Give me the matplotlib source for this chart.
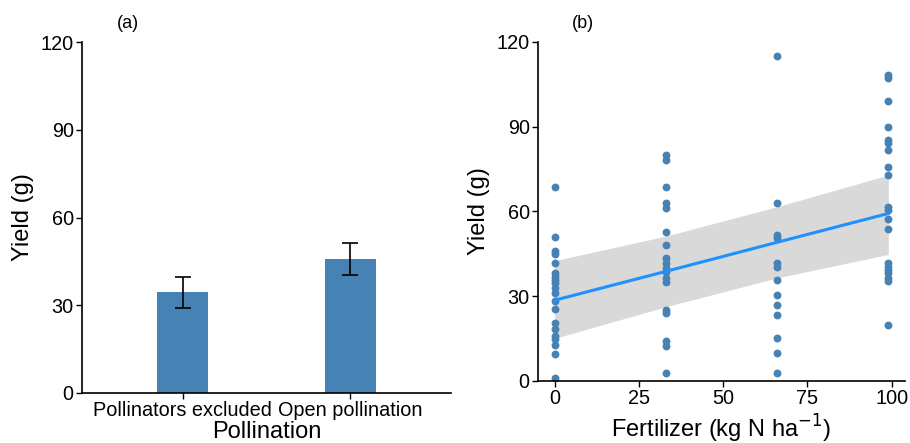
import matplotlib
matplotlib.use("Agg")
import matplotlib.pyplot as plt
import numpy as np

plt.rcParams['font.family'] = ['Liberation Sans', 'DejaVu Sans']

# Panel (a): bar chart
categories = ["Pollinators excluded", "Open pollination"]
bar_means = [34.5, 45.8]
bar_err_low = [29.1, 40.3]
bar_err_high = [39.7, 51.3]

# Panel (b): scatter
fert_levels = [0, 33, 66, 99]
yield_f0 = [68.5, 50.9, 46.1, 45.0, 41.7, 38.1, 36.9, 35.8, 34.6, 32.8, 31.0,
            28.4, 25.4, 20.6, 18.3, 15.9, 14.8, 12.7, 9.6, 1.2]
yield_f33 = [80.0, 78.2, 68.8, 62.9, 61.1, 52.8, 48.1, 43.4, 41.7, 39.9, 38.7,
             36.4, 35.2, 25.1, 24.0, 14.0, 12.5, 3.0]
yield_f66 = [115.2, 62.9, 51.7, 50.5, 41.7, 40.5, 35.8, 30.4, 26.9, 23.4, 15.1,
             9.8, 2.7]
yield_f99 = [108.3, 107.3, 99.2, 89.8, 85.3, 84.1, 81.8, 75.9, 72.9, 61.7, 60.5,
             57.2, 53.7, 41.7, 40.5, 39.3, 38.1, 36.6, 35.5, 19.8]

# fitted line and confidence band
fit_x = [0, 33, 66, 99]
fit_y = [28.6, 38.8, 49.1, 59.3]
fit_lo = [15.1, 26.3, 36.5, 44.8]
fit_hi = [42.6, 51.3, 61.7, 72.9]

yticks = [0, 30, 60, 90, 120]
xticks_b = [0, 25, 50, 75, 100]

BLUE = "#4682B4"
LINE = "#1E90FF"

fig = plt.figure(figsize=(9.10, 4.43), dpi=100)

def style(ax):
    for s in ["top", "right"]:
        ax.spines[s].set_visible(False)
    for s in ["left", "bottom"]:
        ax.spines[s].set_linewidth(1.2)
        ax.spines[s].set_color("black")
    ax.tick_params(axis="both", length=4, width=1.0, labelsize=14.3, pad=2,
                   colors="black")

# ---- Panel (a)
ax1 = fig.add_axes([82/910, 1-393/443, 369/910, 351/443])
xpos = np.arange(len(categories))
ax1.bar(xpos, bar_means, width=0.3, color=BLUE, zorder=2)
yerr = [np.array(bar_means) - np.array(bar_err_low),
        np.array(bar_err_high) - np.array(bar_means)]
ax1.errorbar(xpos, bar_means, yerr=yerr, fmt="none", ecolor="black",
             elinewidth=1.2, capsize=6, capthick=1.2, zorder=3)
ax1.set_xlim(-0.6, 1.6)
ax1.set_ylim(0, 120)
ax1.set_yticks(yticks)
ax1.set_xticks(xpos)
ax1.set_xticklabels(categories)
ax1.set_ylabel("Yield (g)", fontsize=17, labelpad=5)
ax1.set_xlabel("Pollination", fontsize=17, labelpad=0.5)
style(ax1)

# ---- Panel (b)
ax2 = fig.add_axes([538/910, 1-381/443, 367/910, 339/443])
ax2.fill_between(fit_x, fit_lo, fit_hi, color="#D9D9D9", linewidth=0, zorder=1)
for lvl, vals in zip(fert_levels, [yield_f0, yield_f33, yield_f66, yield_f99]):
    ax2.scatter(np.full(len(vals), lvl), vals, s=32, color=BLUE,
                linewidths=0, zorder=2)
ax2.plot(fit_x, fit_y, color=LINE, linewidth=2.2, zorder=3)
ax2.set_xlim(-4.95, 103.95)
ax2.set_ylim(0, 120)
ax2.set_yticks(yticks)
ax2.set_xticks(xticks_b)
ax2.set_ylabel("Yield (g)", fontsize=17, labelpad=5)
ax2.set_xlabel("Fertilizer (kg N ha$^{-1}$)", fontsize=17, labelpad=3)
style(ax2)

fig.text(128/910, 1-23/443, "(a)", fontsize=13, ha="center", va="center")
fig.text(583/910, 1-23/443, "(b)", fontsize=13, ha="center", va="center")

fig.savefig("out.png", dpi=100)
